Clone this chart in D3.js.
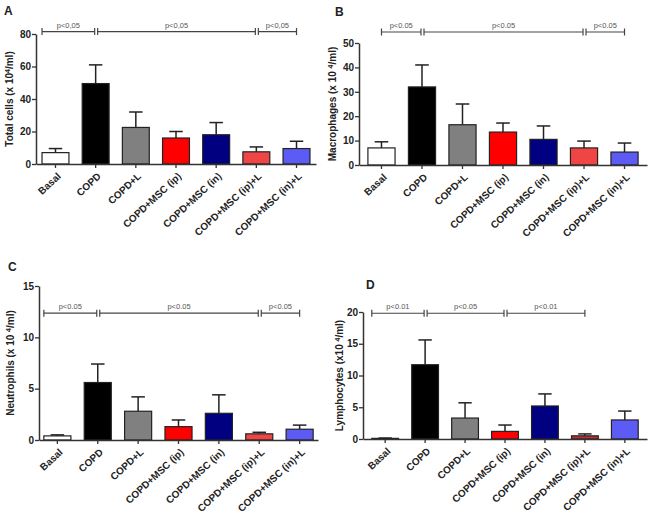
<!DOCTYPE html>
<html><head><meta charset="utf-8">
<script src="https://cdn.jsdelivr.net/npm/d3@7"></script>
<style>body{margin:0;background:#fff}svg{display:block}text{font-family:Arial,"Liberation Sans",sans-serif}</style>
</head><body><svg id="c" width="651" height="514"></svg>
<script>
const categories = ["Basal","COPD","COPD+L","COPD+MSC (ip)","COPD+MSC (in)","COPD+MSC (ip)+L","COPD+MSC (in)+L"];
const colors = ["#ffffff","#000000","#808080","#ff0000","#000080","#f04545","#5c5cf5"];
const colorsD = ["#ffffff","#000000","#808080","#ff0000","#000080","#c03030","#5c5cf5"];

const totalMean = [7, 49.5, 22.5, 16, 18, 7.5, 9.5];
const totalErr  = [9.5, 61, 32, 20, 25.5, 10.5, 14];
const macroMean = [7, 32, 16.5, 13.5, 10.5, 7, 5.3];
const macroErr  = [9.5, 41, 25, 17.2, 16, 9.8, 9];
const neutroMean = [0.4, 5.6, 2.8, 1.3, 2.6, 0.6, 1.05];
const neutroErr  = [0.5, 7.4, 4.2, 1.95, 4.4, 0.75, 1.45];
const lymphoMean = [0.1, 11.7, 3.3, 1.2, 5.2, 0.5, 3.0];
const lymphoErr  = [0.15, 15.6, 5.7, 2.2, 7.1, 0.8, 4.4];

const ticksA = [0,20,40,60,80];
const ticksB = [0,10,20,30,40,50];
const ticksC = [0,5,10,15];
const ticksD = [0,5,10,15,20];

const bracketsA = [[0,1,"p<0,05"],[1,5,"p<0,05"],[5,6,"p<0,05"]];
const bracketsB = [[0,1,"p<0.05"],[1,5,"p<0.05"],[5,6,"p<0.05"]];
const bracketsC = [[0,1,"p<0.05"],[1,5,"p<0.05"],[5,6,"p<0.05"]];
const bracketsD = [[0,1,"p<0.01"],[1,3,"p<0.05"],[3,5,"p<0.01"]];

const svg = d3.select("#c");

function panel(o){
  const g = svg.append("g");
  const x = d3.scaleBand().domain(categories).range([o.x0, o.x1]).paddingInner(0.33).paddingOuter(o.po);
  const y = d3.scaleLinear().domain([0, o.ymax]).range([o.yb, o.yt]);
  const bw = x.bandwidth();
  g.selectAll("rect.bar").data(categories).enter().append("rect")
    .attr("x", d=>x(d)).attr("width", bw)
    .attr("y", (d,i)=>y(o.mean[i])).attr("height",(d,i)=>y(0)-y(o.mean[i]))
    .attr("fill",(d,i)=>o.colors[i]).attr("stroke","#222").attr("stroke-width",1.2);
  const eb = g.selectAll("g.eb").data(categories).enter().append("g");
  eb.append("line").attr("x1",d=>x(d)+bw/2).attr("x2",d=>x(d)+bw/2)
    .attr("y1",(d,i)=>y(o.mean[i])).attr("y2",(d,i)=>y(o.err[i]))
    .attr("stroke","#222").attr("stroke-width",1.5);
  eb.append("line").attr("x1",d=>x(d)+bw/2-bw/4).attr("x2",d=>x(d)+bw/2+bw/4)
    .attr("y1",(d,i)=>y(o.err[i])).attr("y2",(d,i)=>y(o.err[i]))
    .attr("stroke","#222").attr("stroke-width",1.5);
  const ya = g.append("g").attr("transform",`translate(${o.x0},0)`)
    .call(d3.axisLeft(y).tickValues(o.ticks).tickSize(4).tickSizeOuter(0));
  ya.select(".domain").attr("stroke","#333").attr("stroke-width",1.5);
  ya.selectAll(".tick line").attr("stroke","#333").attr("stroke-width",1.3);
  ya.selectAll("text").attr("font-size",10).attr("font-weight","bold").attr("fill","#222").attr("x",-5);
  const xa = g.append("g").attr("transform",`translate(0,${o.yb})`)
    .call(d3.axisBottom(x).tickSize(4).tickSizeOuter(0));
  xa.select(".domain").attr("stroke","#333").attr("stroke-width",1.5);
  xa.selectAll(".tick line").attr("stroke","#333").attr("stroke-width",1.3);
  xa.selectAll("text").attr("font-size",10).attr("font-weight","bold").attr("fill","#222")
    .attr("text-anchor","end").attr("dy",0).attr("y",0)
    .attr("transform","translate(6,13) rotate(-43)");
  const lab = g.append("text").attr("transform",`translate(${o.lx},${(o.yb+o.yt)/2}) rotate(-90)`)
    .attr("text-anchor","middle").attr("font-size",10).attr("font-weight","bold").attr("fill","#222");
  lab.append("tspan").text(o.label[0]);
  lab.append("tspan").attr("dy",-3.5).attr("font-size",7).text("4");
  lab.append("tspan").attr("dy",3.5).text(o.label[1]);
  const by = y(o.blevel);
  o.brackets.forEach((b,k)=>{
    let xs = x(categories[b[0]])+bw/2 + (k>0?2:0);
    if(k===0 && o.edgeStart) xs = x(categories[b[0]]);
    const xe = x(categories[b[1]])+bw/2 - (k<o.brackets.length-1?1:0);
    g.append("line").attr("x1",xs).attr("x2",xe).attr("y1",by).attr("y2",by).attr("stroke","#444").attr("stroke-width",1.2);
    [xs,xe].forEach(xx=>g.append("line").attr("x1",xx).attr("x2",xx).attr("y1",by-3.5).attr("y2",by+3.5).attr("stroke","#444").attr("stroke-width",1.2));
    g.append("text").attr("x",(xs+xe)/2).attr("y",by-4).attr("text-anchor","middle")
      .attr("font-size",7.5).attr("fill","#555").text(b[2]);
  });
  svg.append("text").attr("x",o.px).attr("y",o.py).attr("font-size",12).attr("font-weight","bold").attr("fill","#222").text(o.letter);
}

panel({mean:totalMean, err:totalErr, ticks:ticksA, ymax:80, x0:36, x1:316, po:0.15, yb:164, yt:34,
  colors:colors, label:["Total cells (x 10","/ml)"], lx:13, brackets:bracketsA, blevel:81.5, edgeStart:true,
  letter:"A", px:4, py:15});
panel({mean:macroMean, err:macroErr, ticks:ticksB, ymax:50, x0:359, x1:647, po:0.22, yb:165, yt:43,
  colors:colors, label:["Macrophages (x 10 ","/ml)"], lx:336, brackets:bracketsB, blevel:54.5, edgeStart:false,
  letter:"B", px:335, py:16});
panel({mean:neutroMean, err:neutroErr, ticks:ticksC, ymax:15, x0:39, x1:318, po:0.12, yb:440, yt:286,
  colors:colors, label:["Neutrophils (x 10 ","/ml)"], lx:14, brackets:bracketsC, blevel:12.35, edgeStart:true,
  letter:"C", px:8, py:271});
panel({mean:lymphoMean, err:lymphoErr, ticks:ticksD, ymax:20, x0:363, x1:647, po:0.22, yb:439, yt:312,
  colors:colorsD, label:["Lymphocytes (x10 ","/ml)"], lx:343, brackets:bracketsD, blevel:19.8, edgeStart:true,
  letter:"D", px:366, py:289});
</script></body></html>
